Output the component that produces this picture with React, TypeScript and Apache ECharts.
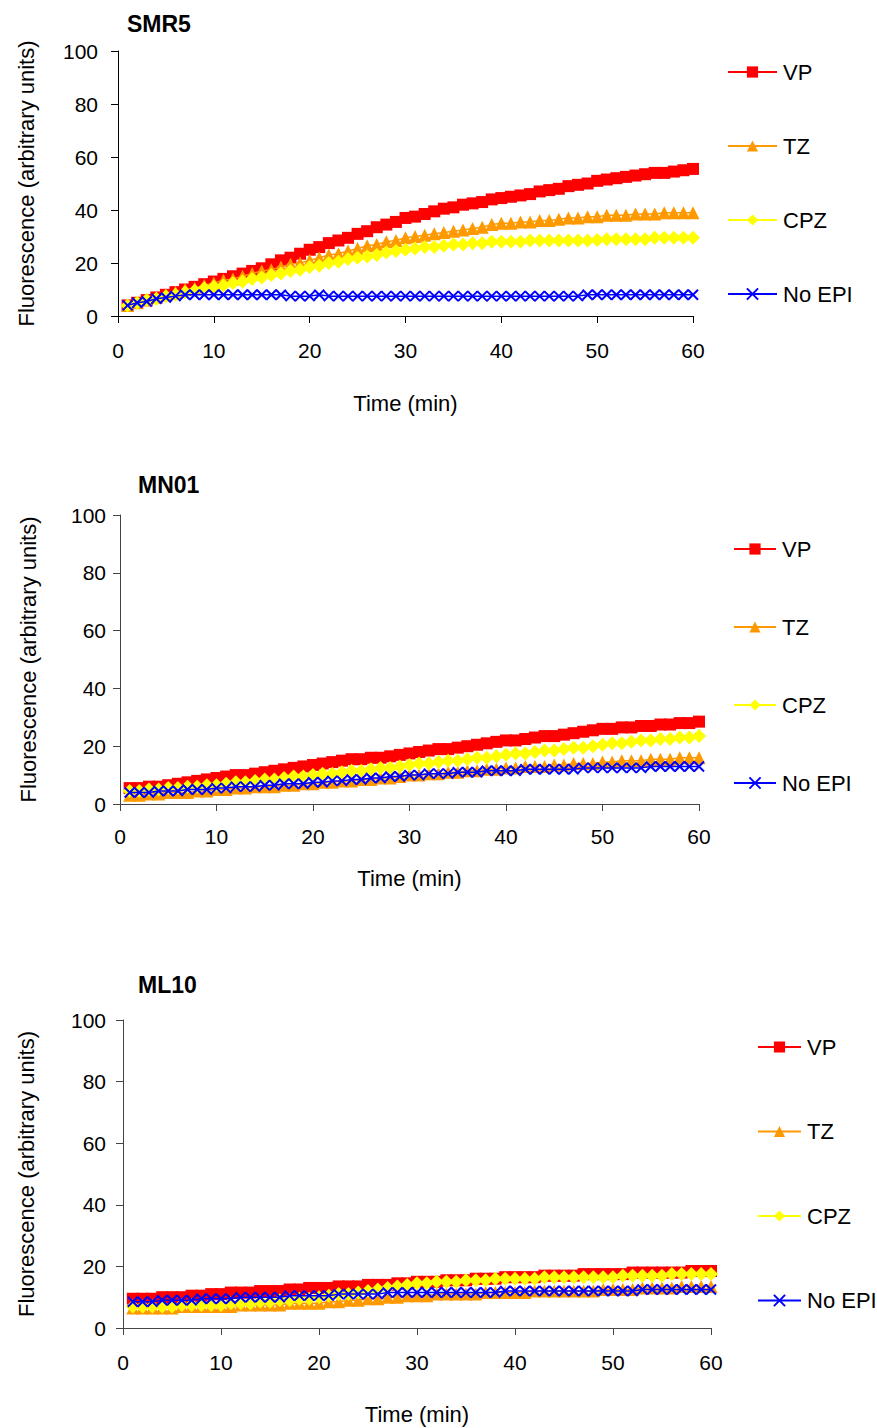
import React, { useEffect, useRef } from "react";
import * as echarts from "echarts";

const time = [
  1, 2, 3, 4, 5, 6, 7, 8, 9, 10, 11, 12, 13, 14, 15, 16, 17, 18, 19, 20,
  21, 22, 23, 24, 25, 26, 27, 28, 29, 30, 31, 32, 33, 34, 35, 36, 37, 38, 39, 40,
  41, 42, 43, 44, 45, 46, 47, 48, 49, 50, 51, 52, 53, 54, 55, 56, 57, 58, 59, 60,
];

const seriesNames = ["VP", "TZ", "CPZ", "No EPI"];
const panelTitles = ["SMR5", "MN01", "ML10"];
const xTicks = [0, 10, 20, 30, 40, 50, 60];
const yTicks = [0, 20, 40, 60, 80, 100];

// SMR5
const smr5VP = [
  4, 5, 6, 7, 8, 9, 10, 11, 12, 13,
  14, 15, 16, 17, 18, 19.5, 21, 22, 23.5, 25,
  26, 27.5, 28.5, 29.5, 31, 32, 33.5, 34.5, 35.5, 37,
  37.5, 38.5, 39.5, 40.5, 41, 42, 42.5, 43, 44, 44.5,
  45, 45.5, 46, 47, 47.5, 48, 49, 49.5, 50, 51,
  51.5, 52, 52.5, 53, 53.5, 54, 54, 54.5, 55, 55.5,
];
const smr5TZ = [
  4, 5, 6, 7, 8, 9, 10, 10.5, 11.5, 12.5,
  13.5, 14, 15, 16, 17, 17.5, 18.5, 19.5, 20, 21,
  22, 23, 23.5, 24.5, 25.5, 26.5, 27, 28, 28.5, 29.5,
  30, 30.5, 31, 31.5, 32, 32.5, 33, 33.5, 34.5, 35,
  35, 35.5, 35.5, 36, 36, 36.5, 37, 37, 37.5, 37.5,
  38, 38, 38, 38.5, 38.5, 38.5, 39, 39, 39, 39,
];
const smr5CPZ = [
  4, 5, 6, 6.5, 7.5, 8, 9, 9.5, 10.5, 11,
  11.5, 12.5, 13, 14, 14.5, 15.5, 16, 17, 17.5, 18.5,
  19, 20, 20.5, 21.5, 22, 22.5, 23, 24, 24.5, 25,
  25.5, 26, 26, 26.5, 27, 27, 27.5, 27.5, 28, 28,
  28, 28, 28.5, 28.5, 28.5, 28.5, 28.5, 28.5, 28.5, 28.7,
  29, 29, 29, 29, 29, 29.5, 29.5, 29.5, 29.5, 29.5,
];
const smr5NoEPI = [
  4, 5, 5.5, 6.5, 7, 7.5, 8, 8, 8, 8,
  8, 8, 8, 8, 8, 8, 8, 7.5, 7.5, 7.5,
  8, 7.5, 7.5, 7.5, 7.5, 7.5, 7.5, 7.5, 7.5, 7.5,
  7.5, 7.5, 7.5, 7.5, 7.5, 7.5, 7.5, 7.5, 7.5, 7.5,
  7.5, 7.5, 7.5, 7.5, 7.5, 7.5, 7.5, 7.5, 8, 8,
  8, 8, 8, 8, 8, 8, 8, 8, 8, 8,
];

// MN01
const mn01VP = [
  5.5, 5.5, 6, 6, 6.5, 7, 7.5, 8, 8.5, 9,
  9.5, 10, 10, 10.5, 11, 11.5, 12, 12.5, 13, 13.5,
  14, 14.5, 15, 15.5, 15.5, 16, 16, 16.5, 17, 17.5,
  18, 18.5, 19, 19, 19.5, 20, 20.5, 21, 21.5, 22,
  22, 22.5, 23, 23.5, 23.5, 24, 24.5, 25, 25.5, 26,
  26, 26.5, 26.5, 27, 27, 27.5, 27.5, 28, 28, 28.5,
];
const mn01TZ = [
  3, 3, 3.5, 3.5, 4, 4, 4, 4.5, 4.5, 5,
  5, 5.5, 5.5, 6, 6, 6, 6.5, 6.5, 7, 7,
  7.5, 7.5, 8, 8, 8.5, 8.5, 9, 9, 9.5, 10,
  10, 10.5, 10.5, 11, 11, 11.5, 11.5, 12, 12, 12.5,
  12.5, 13, 13, 13, 13.5, 13.5, 14, 14, 14, 14.5,
  14.5, 15, 15, 15, 15.5, 15.5, 15.5, 16, 16, 16,
];
const mn01CPZ = [
  4.5, 4.5, 5, 5, 5.5, 5.5, 6, 6, 6.5, 6.5,
  7, 7.5, 7.5, 8, 8.5, 8.5, 9, 9.5, 9.5, 10,
  10.5, 10.5, 11, 11.5, 11.5, 12, 12.5, 12.5, 13, 13.5,
  14, 14, 14.5, 15, 15, 15.5, 16, 16, 16.5, 17,
  17.5, 17.5, 18, 18.5, 18.5, 19, 19.5, 19.5, 20, 20.5,
  21, 21, 21.5, 22, 22, 22.5, 22.5, 23, 23, 23.5,
];
const mn01NoEPI = [
  4, 4, 4, 4.5, 4.5, 4.5, 5, 5, 5, 5.5,
  5.5, 6, 6, 6, 6.5, 6.5, 7, 7, 7, 7.5,
  7.5, 8, 8, 8.5, 8.5, 9, 9, 9.5, 9.5, 10,
  10, 10.5, 10.5, 10.5, 11, 11, 11, 11.5, 11.5, 11.5,
  11.5, 12, 12, 12, 12, 12, 12, 12.5, 12.5, 12.5,
  12.5, 12.5, 12.5, 12.5, 13, 13, 13, 13, 13, 13,
];

// ML10
const ml10VP = [
  9.5, 9.5, 9.5, 10, 10, 10, 10.5, 10.5, 11, 11,
  11.5, 11.5, 11.5, 12, 12, 12, 12.5, 12.5, 13, 13,
  13, 13.5, 13.5, 13.5, 14, 14, 14, 14.5, 14.5, 15,
  15, 15, 15.5, 15.5, 15.5, 16, 16, 16, 16.5, 16.5,
  16.5, 16.5, 17, 17, 17, 17, 17.5, 17.5, 17.5, 17.5,
  17.5, 18, 18, 18, 18, 18, 18, 18.5, 18.5, 18.5,
];
const ml10TZ = [
  6.5, 6.5, 6.5, 6.5, 6.5, 7, 7, 7, 7, 7,
  7, 7.5, 7.5, 7.5, 7.5, 7.5, 8, 8, 8, 8,
  8.5, 8.5, 9, 9, 9.5, 9.5, 10, 10, 10.5, 10.5,
  10.5, 11, 11, 11, 11, 11, 11.5, 11.5, 11.5, 11.5,
  11.5, 12, 12, 12, 12, 12, 12, 12, 12.5, 12.5,
  12.5, 12.5, 13, 13, 13, 13, 13.5, 13.5, 13.5, 13.5,
];
const ml10CPZ = [
  7, 7, 7, 7, 7, 7.5, 7.5, 7.5, 7.5, 7.5,
  8, 8, 8, 8.5, 8.5, 9, 9, 9.5, 9.5, 10,
  10.5, 11, 11, 11.5, 12, 12.5, 13, 13.5, 14, 14.5,
  14.5, 15, 15, 15, 15.5, 15.5, 15.5, 16, 16, 16,
  16, 16, 16.5, 16.5, 16.5, 16.5, 16.5, 16.5, 16.5, 16.5,
  17, 17, 17, 17, 17, 17.5, 17.5, 17.5, 17.5, 17.5,
];
const ml10NoEPI = [
  8.5, 8.5, 8.5, 9, 9, 9, 9, 9.5, 9.5, 9.5,
  9.5, 10, 10, 10, 10, 10, 10.5, 10.5, 10.5, 10.5,
  10.5, 11, 11, 11, 11, 11, 11.5, 11.5, 11.5, 11.5,
  11.5, 11.5, 11.5, 11.5, 11.5, 11.5, 11.5, 11.5, 12, 12,
  12, 12, 12, 12, 12, 12, 12, 12, 12, 12,
  12, 12, 12.5, 12.5, 12.5, 12.5, 12.5, 12.5, 12.5, 12.5,
];

const panelData = [
  [smr5VP, smr5TZ, smr5CPZ, smr5NoEPI],
  [mn01VP, mn01TZ, mn01CPZ, mn01NoEPI],
  [ml10VP, ml10TZ, ml10CPZ, ml10NoEPI],
];

const FONT = "'Liberation Sans', Arial, Helvetica, sans-serif";

const styles = [
  { color: "#FF0000", symbol: "rect", size: 12 },
  { color: "#FF9900", symbol: "triangle", size: 13 },
  { color: "#FFFF00", symbol: "diamond", size: 14 },
  { color: "#0000FF", symbol: "path://M0,0L10,10M10,0L0,10", size: 10 },
];

const layouts = [
  { left: 118, top: 51, width: 575, height: 265, xLabelMargin: 24, yLabelMargin: 20, xNameGap: 76, yNameGap: 81, titleX: 127, titleY: 24, legendLeft: 727, legendTop: 61, legendGap: 52, legendItemWidth: 49, axisColor: "#000" },
  { left: 120, top: 515, width: 579, height: 289, xLabelMargin: 22, yLabelMargin: 14, xNameGap: 63, yNameGap: 81, titleX: 138, titleY: 485, legendLeft: 733, legendTop: 538, legendGap: 56, legendItemWidth: 42, axisColor: "#444" },
  { left: 123, top: 1020, width: 588, height: 308, xLabelMargin: 24, yLabelMargin: 17, xNameGap: 75, yNameGap: 86, titleX: 138, titleY: 985, legendLeft: 757, legendTop: 1036, legendGap: 62.5, legendItemWidth: 43, axisColor: "#444" },
];

export default function App() {
  const ref = useRef<HTMLDivElement>(null);

  useEffect(() => {
    if (!ref.current) return;
    const chart = echarts.init(ref.current, null, { renderer: "svg" });

    const grid = layouts.map((l) => ({
      left: l.left,
      top: l.top,
      width: l.width,
      height: l.height,
      containLabel: false,
    }));

    const xAxis = layouts.map((l, i) => ({
      type: "value",
      gridIndex: i,
      min: xTicks[0],
      max: xTicks[xTicks.length - 1],
      interval: 10,
      name: "Time (min)",
      nameLocation: "middle",
      nameGap: l.xNameGap,
      nameTextStyle: { fontFamily: FONT, fontSize: 22, color: "#000" },
      axisLine: { show: true, lineStyle: { color: l.axisColor, width: 1 } },
      axisTick: { show: true, inside: false, length: 7, lineStyle: { color: l.axisColor } },
      axisLabel: { margin: l.xLabelMargin, fontFamily: FONT, fontSize: 21, color: "#000" },
      splitLine: { show: false },
    }));

    const yAxis = layouts.map((l, i) => ({
      type: "value",
      gridIndex: i,
      min: yTicks[0],
      max: yTicks[yTicks.length - 1],
      interval: 20,
      name: "Fluorescence (arbitrary units)",
      nameLocation: "middle",
      nameGap: l.yNameGap,
      nameRotate: 90,
      nameTextStyle: { fontFamily: FONT, fontSize: 22, color: "#000" },
      axisLine: { show: true, lineStyle: { color: i === 0 ? "#000" : l.axisColor, width: 1 } },
      axisTick: { show: true, inside: false, length: 7, lineStyle: { color: i === 0 ? "#000" : l.axisColor } },
      axisLabel: { margin: l.yLabelMargin, fontFamily: FONT, fontSize: 21, color: "#000" },
      splitLine: { show: false },
    }));

    const series: any[] = [];
    panelData.forEach((arrs, gi) => {
      arrs.forEach((vals, si) => {
        const s = styles[si];
        series.push({
          type: "line",
          name: seriesNames[si],
          xAxisIndex: gi,
          yAxisIndex: gi,
          data: time.map((t, k) => [t, vals[k]]),
          symbol: s.symbol,
          symbolSize: s.size,
          showSymbol: true,
          lineStyle: { color: s.color, width: 1.5 },
          itemStyle:
            si === 3
              ? { color: s.color, borderColor: s.color, borderWidth: 2 }
              : { color: s.color, borderWidth: 0 },
          emphasis: { disabled: true },
          z: 2 + si,
        });
      });
    });

    const legend = layouts.map((l) => ({
      orient: "vertical",
      left: l.legendLeft,
      top: l.legendTop,
      itemGap: l.legendGap,
      itemWidth: l.legendItemWidth,
      itemHeight: 14,
      padding: 0,
      selectedMode: false,
      data: seriesNames,
      textStyle: { fontFamily: FONT, fontSize: 22, color: "#000", padding: [0, 0, 0, 1] },
    }));

    const graphic = layouts.map((l, i) => ({
      type: "text",
      x: l.titleX,
      y: l.titleY,
      style: {
        text: panelTitles[i],
        font: `bold 23px ${FONT}`,
        fill: "#000",
        textAlign: "left",
        textVerticalAlign: "middle",
        verticalAlign: "middle",
      },
    }));

    chart.setOption({
      animation: false,
      backgroundColor: "#fff",
      grid,
      xAxis,
      yAxis,
      series,
      legend,
      graphic,
    });

    return () => chart.dispose();
  }, []);

  return (
    <div
      ref={ref}
      style={{ position: "absolute", left: 0, top: 0, width: 877, height: 1428 }}
    />
  );
}
